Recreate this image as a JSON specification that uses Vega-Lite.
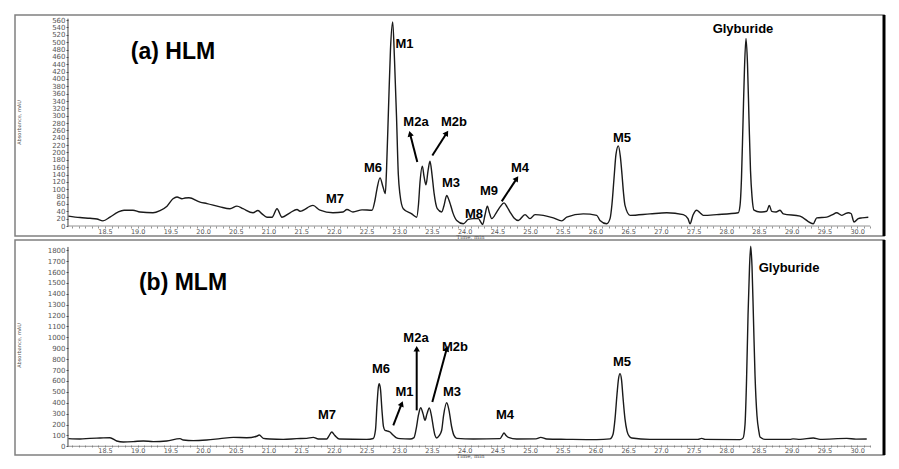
{
  "$schema": "https://vega.github.io/schema/vega-lite/v6.json",
  "padding": {"left": 14, "top": 12, "right": 0, "bottom": 0},
  "spacing": 4,
  "bounds": "flush",
  "config": {"view": {"stroke": "#808080", "strokeWidth": 1.5}, "font": "Liberation Sans", "axis": {"labelOverlap": false, "grid": false}},
  "datasets": {
    "hlm": [
      {"t":17.939,"a":27},{"t":18.118,"a":23},{"t":18.271,"a":21},{"t":18.378,"a":19},{"t":18.469,"a":14},{"t":18.576,"a":24},{"t":18.699,"a":38},{"t":18.791,"a":43},{"t":18.928,"a":43},{"t":19.035,"a":38},{"t":19.234,"a":36},{"t":19.341,"a":42},{"t":19.448,"a":54},{"t":19.540,"a":74},{"t":19.601,"a":79},{"t":19.677,"a":74},{"t":19.723,"a":76},{"t":19.784,"a":77},{"t":19.953,"a":65},{"t":20.060,"a":61},{"t":20.258,"a":52},{"t":20.411,"a":47},{"t":20.518,"a":54},{"t":20.610,"a":47},{"t":20.763,"a":36},{"t":20.839,"a":42},{"t":20.901,"a":33},{"t":20.977,"a":24},{"t":21.054,"a":24},{"t":21.130,"a":47},{"t":21.206,"a":24},{"t":21.329,"a":36},{"t":21.436,"a":45},{"t":21.482,"a":40},{"t":21.680,"a":56},{"t":21.787,"a":43},{"t":21.986,"a":36},{"t":22.139,"a":38},{"t":22.200,"a":45},{"t":22.292,"a":38},{"t":22.430,"a":44},{"t":22.583,"a":43},{"t":22.628,"a":70},{"t":22.659,"a":101},{"t":22.705,"a":131},{"t":22.751,"a":106},{"t":22.786,"a":88},{"t":22.804,"a":150},{"t":22.838,"a":337},{"t":22.865,"a":480},{"t":22.899,"a":555},{"t":22.927,"a":450},{"t":22.957,"a":300},{"t":22.985,"a":140},{"t":23.011,"a":85},{"t":23.061,"a":47},{"t":23.190,"a":33},{"t":23.266,"a":24},{"t":23.294,"a":60},{"t":23.317,"a":120},{"t":23.352,"a":163},{"t":23.378,"a":135},{"t":23.408,"a":112},{"t":23.439,"a":150},{"t":23.469,"a":176},{"t":23.500,"a":140},{"t":23.531,"a":90},{"t":23.581,"a":47},{"t":23.648,"a":38},{"t":23.683,"a":55},{"t":23.725,"a":83},{"t":23.760,"a":70},{"t":23.786,"a":56},{"t":23.821,"a":35},{"t":23.878,"a":15},{"t":23.979,"a":6},{"t":24.055,"a":18},{"t":24.131,"a":20},{"t":24.208,"a":20},{"t":24.242,"a":12},{"t":24.275,"a":4},{"t":24.310,"a":30},{"t":24.346,"a":54},{"t":24.379,"a":35},{"t":24.413,"a":20},{"t":24.489,"a":38},{"t":24.540,"a":52},{"t":24.601,"a":63},{"t":24.647,"a":52},{"t":24.693,"a":38},{"t":24.754,"a":22},{"t":24.820,"a":15},{"t":24.922,"a":31},{"t":24.998,"a":20},{"t":25.075,"a":31},{"t":25.202,"a":29},{"t":25.355,"a":22},{"t":25.483,"a":14},{"t":25.560,"a":24},{"t":25.813,"a":33},{"t":26.018,"a":29},{"t":26.069,"a":15},{"t":26.171,"a":6},{"t":26.222,"a":20},{"t":26.252,"a":60},{"t":26.283,"a":130},{"t":26.313,"a":195},{"t":26.349,"a":218},{"t":26.379,"a":190},{"t":26.405,"a":140},{"t":26.428,"a":90},{"t":26.451,"a":56},{"t":26.528,"a":29},{"t":26.833,"a":33},{"t":27.089,"a":36},{"t":27.342,"a":31},{"t":27.414,"a":20},{"t":27.445,"a":6},{"t":27.491,"a":30},{"t":27.547,"a":43},{"t":27.598,"a":36},{"t":27.648,"a":29},{"t":27.853,"a":31},{"t":28.183,"a":36},{"t":28.209,"a":55},{"t":28.232,"a":130},{"t":28.255,"a":280},{"t":28.278,"a":430},{"t":28.301,"a":510},{"t":28.324,"a":440},{"t":28.347,"a":290},{"t":28.370,"a":150},{"t":28.393,"a":80},{"t":28.424,"a":43},{"t":28.515,"a":38},{"t":28.618,"a":40},{"t":28.657,"a":56},{"t":28.694,"a":40},{"t":28.760,"a":38},{"t":28.821,"a":43},{"t":28.872,"a":33},{"t":29.127,"a":27},{"t":29.330,"a":6},{"t":29.382,"a":22},{"t":29.535,"a":24},{"t":29.616,"a":30},{"t":29.688,"a":36},{"t":29.764,"a":29},{"t":29.815,"a":33},{"t":29.865,"a":36},{"t":29.907,"a":34},{"t":29.953,"a":11},{"t":30.018,"a":20},{"t":30.075,"a":22},{"t":30.171,"a":24}
    ],
    "mlm": [
      {"t":17.939,"a":70},{"t":18.118,"a":67},{"t":18.271,"a":73},{"t":18.424,"a":76},{"t":18.576,"a":79},{"t":18.679,"a":49},{"t":18.780,"a":40},{"t":18.933,"a":43},{"t":19.086,"a":49},{"t":19.239,"a":43},{"t":19.443,"a":49},{"t":19.647,"a":70},{"t":19.697,"a":58},{"t":19.850,"a":52},{"t":20.055,"a":58},{"t":20.258,"a":70},{"t":20.462,"a":82},{"t":20.667,"a":79},{"t":20.820,"a":92},{"t":20.859,"a":104},{"t":20.920,"a":73},{"t":21.023,"a":67},{"t":21.226,"a":64},{"t":21.431,"a":70},{"t":21.584,"a":73},{"t":21.685,"a":82},{"t":21.761,"a":67},{"t":21.890,"a":67},{"t":21.925,"a":95},{"t":21.966,"a":131},{"t":22.017,"a":98},{"t":22.083,"a":67},{"t":22.501,"a":64},{"t":22.602,"a":72},{"t":22.636,"a":150},{"t":22.659,"a":380},{"t":22.679,"a":540},{"t":22.694,"a":575},{"t":22.713,"a":520},{"t":22.735,"a":330},{"t":22.758,"a":180},{"t":22.781,"a":147},{"t":22.820,"a":140},{"t":22.858,"a":131},{"t":22.908,"a":101},{"t":22.950,"a":80},{"t":23.011,"a":70},{"t":23.164,"a":67},{"t":23.225,"a":80},{"t":23.255,"a":150},{"t":23.294,"a":290},{"t":23.327,"a":354},{"t":23.362,"a":300},{"t":23.393,"a":239},{"t":23.424,"a":300},{"t":23.459,"a":352},{"t":23.492,"a":280},{"t":23.520,"a":177},{"t":23.546,"a":100},{"t":23.572,"a":76},{"t":23.607,"a":95},{"t":23.648,"a":147},{"t":23.676,"a":280},{"t":23.725,"a":400},{"t":23.760,"a":330},{"t":23.801,"a":177},{"t":23.836,"a":100},{"t":23.878,"a":73},{"t":24.131,"a":67},{"t":24.540,"a":70},{"t":24.570,"a":95},{"t":24.601,"a":122},{"t":24.631,"a":100},{"t":24.667,"a":82},{"t":24.795,"a":67},{"t":25.090,"a":68},{"t":25.162,"a":82},{"t":25.254,"a":67},{"t":25.560,"a":64},{"t":26.018,"a":61},{"t":26.222,"a":68},{"t":26.268,"a":110},{"t":26.298,"a":250},{"t":26.329,"a":480},{"t":26.352,"a":620},{"t":26.375,"a":667},{"t":26.398,"a":610},{"t":26.420,"a":450},{"t":26.451,"a":250},{"t":26.482,"a":140},{"t":26.512,"a":95},{"t":26.553,"a":76},{"t":26.833,"a":64},{"t":27.292,"a":64},{"t":27.567,"a":64},{"t":27.624,"a":73},{"t":27.674,"a":64},{"t":28.209,"a":61},{"t":28.255,"a":75},{"t":28.286,"a":200},{"t":28.309,"a":600},{"t":28.332,"a":1200},{"t":28.355,"a":1650},{"t":28.373,"a":1836},{"t":28.393,"a":1650},{"t":28.416,"a":1150},{"t":28.439,"a":650},{"t":28.469,"a":280},{"t":28.500,"a":130},{"t":28.515,"a":85},{"t":28.592,"a":64},{"t":28.974,"a":64},{"t":29.020,"a":68},{"t":29.127,"a":64},{"t":29.330,"a":76},{"t":29.433,"a":64},{"t":29.841,"a":73},{"t":29.983,"a":66},{"t":30.147,"a":67}
    ],
    "hlm_labels": [
      {"label":"M1","t":23.080,"a":495},{"label":"M2a","t":23.255,"a":283},{"label":"M2b","t":23.836,"a":283},{"label":"M6","t":22.598,"a":158},{"label":"M3","t":23.791,"a":117},{"label":"M7","t":22.017,"a":73},{"label":"M9","t":24.372,"a":95},{"label":"M4","t":24.846,"a":158},{"label":"M8","t":24.142,"a":33},{"label":"M5","t":26.405,"a":239},{"label":"Glyburide","t":28.255,"a":536}
    ],
    "mlm_labels": [
      {"label":"M7","t":21.894,"a":287},{"label":"M6","t":22.720,"a":710},{"label":"M1","t":23.080,"a":498},{"label":"M2a","t":23.255,"a":994},{"label":"M2b","t":23.852,"a":912},{"label":"M3","t":23.806,"a":498},{"label":"M4","t":24.616,"a":287},{"label":"M5","t":26.405,"a":774},{"label":"Glyburide","t":28.959,"a":1637}
    ],
    "hlm_arrows": [
      {"t":23.275,"a":174,"t2":23.164,"a2":251,"heading":-14.5},
      {"t":23.505,"a":192,"t2":23.725,"a2":253,"heading":32.9},
      {"t":24.566,"a":67,"t2":24.795,"a2":129,"heading":33.6}
    ],
    "mlm_arrows": [
      {"t":22.908,"a":193,"t2":23.037,"a2":391,"heading":21.3},
      {"t":23.266,"a":330,"t2":23.266,"a2":896,"heading":0},
      {"t":23.505,"a":407,"t2":23.725,"a2":896,"heading":15.1}
    ]
  },
  "vconcat": [
    {
      "width": 869,
      "height": 221,
      "resolve": {"axis": {"x": "independent", "y": "independent"}},
      "layer": [
        {
          "data": {"name": "hlm"},
          "mark": {"type": "line", "color": "#1a1a1a", "strokeWidth": 1.4, "interpolate": "monotone"},
          "encoding": {
            "x": {"field": "t", "type": "quantitative",
              "scale": {"domain": [17.124, 30.411], "nice": false, "zero": false},
              "axis": {"title": "Time, min", "offset": -10, "domain": false, "grid": false,
                "values": [18.0,18.1,18.2,18.3,18.4,18.5,18.6,18.7,18.8,18.9,19.0,19.1,19.2,19.3,19.4,19.5,19.6,19.7,19.8,19.9,20.0,20.1,20.2,20.3,20.4,20.5,20.6,20.7,20.8,20.9,21.0,21.1,21.2,21.3,21.4,21.5,21.6,21.7,21.8,21.9,22.0,22.1,22.2,22.3,22.4,22.5,22.6,22.7,22.8,22.9,23.0,23.1,23.2,23.3,23.4,23.5,23.6,23.7,23.8,23.9,24.0,24.1,24.2,24.3,24.4,24.5,24.6,24.7,24.8,24.9,25.0,25.1,25.2,25.3,25.4,25.5,25.6,25.7,25.8,25.9,26.0,26.1,26.2,26.3,26.4,26.5,26.6,26.7,26.8,26.9,27.0,27.1,27.2,27.3,27.4,27.5,27.6,27.7,27.8,27.9,28.0,28.1,28.2,28.3,28.4,28.5,28.6,28.7,28.8,28.9,29.0,29.1,29.2,29.3,29.4,29.5,29.6,29.7,29.8,29.9,30.0,30.1,30.2],
                "labelExpr": "abs(datum.value*2 - round(datum.value*2)) < 0.01 && datum.value > 18.3 ? format(datum.value, '.1f') : ''",
                "tickSize": 2, "tickColor": "#777", "tickWidth": 0.8,
                "labelFont": "DejaVu Sans", "labelFontSize": 6.5, "labelColor": "#555", "labelPadding": 0,
                "labelOverlap": false, "labelFlush": false, "labelBound": false,
                "titleFont": "DejaVu Serif", "titleFontSize": 5.5, "titleFontWeight": "normal", "titleColor": "#555", "titlePadding": 0, "titleX": 455}},
            "y": {"field": "a", "type": "quantitative",
              "scale": {"domain": [-27.2, 574], "nice": false, "zero": false},
              "axis": {"title": "Absorbance, mAU", "offset": -53, "domain": false, "grid": false, "format": "d",
                "values": [0,20,40,60,80,100,120,140,160,180,200,220,240,260,280,300,320,340,360,380,400,420,440,460,480,500,520,540,560],
                "tickSize": 2, "tickColor": "#555", "labelFont": "DejaVu Sans", "labelFontSize": 7, "labelColor": "#555", "labelPadding": 1,
                "labelOverlap": false, "labelBound": false, "labelFlush": false,
                "titleFont": "DejaVu Sans", "titleFontSize": 5, "titleFontWeight": "normal", "titleColor": "#555", "titleX": -47, "titleY": 107}}
          }
        },
        {"data": {"values": [{}]}, "mark": {"type": "rule", "color": "#444", "strokeWidth": 1}, "encoding": {"x": {"datum": 17.934, "axis": null}, "y": {"datum": 0, "axis": null}, "y2": {"datum": 564}}},
        {"data": {"values": [{}]}, "mark": {"type": "rule", "color": "#777", "strokeWidth": 0.8}, "encoding": {"x": {"datum": 17.934, "axis": null}, "x2": {"datum": 30.2}, "y": {"datum": 0, "axis": null}}},
        {"data": {"values": [{}]}, "mark": {"type": "rule", "color": "#000", "strokeWidth": 3}, "encoding": {"x": {"datum": 30.411, "axis": null}, "y": {"datum": -27.2, "axis": null}, "y2": {"datum": 574}}},
        {
          "data": {"name": "hlm_arrows"},
          "mark": {"type": "rule", "color": "#000", "strokeWidth": 2},
          "encoding": {"x": {"field": "t", "type": "quantitative", "axis": null}, "y": {"field": "a", "type": "quantitative", "axis": null}, "x2": {"field": "t2"}, "y2": {"field": "a2"}}
        },
        {
          "data": {"name": "hlm_arrows"},
          "mark": {"type": "point", "shape": "triangle-up", "filled": true, "color": "#000", "size": 40, "opacity": 1},
          "encoding": {"x": {"field": "t2", "type": "quantitative", "axis": null}, "y": {"field": "a2", "type": "quantitative", "axis": null}, "angle": {"field": "heading", "type": "quantitative", "scale": null}}
        },
        {
          "data": {"name": "hlm_labels"},
          "mark": {"type": "text", "font": "Liberation Sans", "fontWeight": "bold", "fontSize": 13, "color": "#000", "align": "center", "baseline": "middle"},
          "encoding": {"x": {"field": "t", "type": "quantitative", "axis": null}, "y": {"field": "a", "type": "quantitative", "axis": null}, "text": {"field": "label"}}
        },
        {
          "data": {"values": [{}]},
          "mark": {"type": "text", "text": "(a) HLM", "font": "Liberation Sans", "fontWeight": "bold", "fontSize": 23, "color": "#000", "align": "center", "baseline": "middle"},
          "encoding": {"x": {"datum": 19.54, "axis": null}, "y": {"datum": 473, "axis": null}}
        }
      ]
    },
    {
      "width": 869,
      "height": 215,
      "resolve": {"axis": {"x": "independent", "y": "independent"}},
      "layer": [
        {
          "data": {"name": "mlm"},
          "mark": {"type": "line", "color": "#1a1a1a", "strokeWidth": 1.4, "interpolate": "monotone"},
          "encoding": {
            "x": {"field": "t", "type": "quantitative",
              "scale": {"domain": [17.124, 30.411], "nice": false, "zero": false},
              "axis": {"title": "Time, min", "offset": -10, "domain": false, "grid": false,
                "values": [18.0,18.1,18.2,18.3,18.4,18.5,18.6,18.7,18.8,18.9,19.0,19.1,19.2,19.3,19.4,19.5,19.6,19.7,19.8,19.9,20.0,20.1,20.2,20.3,20.4,20.5,20.6,20.7,20.8,20.9,21.0,21.1,21.2,21.3,21.4,21.5,21.6,21.7,21.8,21.9,22.0,22.1,22.2,22.3,22.4,22.5,22.6,22.7,22.8,22.9,23.0,23.1,23.2,23.3,23.4,23.5,23.6,23.7,23.8,23.9,24.0,24.1,24.2,24.3,24.4,24.5,24.6,24.7,24.8,24.9,25.0,25.1,25.2,25.3,25.4,25.5,25.6,25.7,25.8,25.9,26.0,26.1,26.2,26.3,26.4,26.5,26.6,26.7,26.8,26.9,27.0,27.1,27.2,27.3,27.4,27.5,27.6,27.7,27.8,27.9,28.0,28.1,28.2,28.3,28.4,28.5,28.6,28.7,28.8,28.9,29.0,29.1,29.2,29.3,29.4,29.5,29.6,29.7,29.8,29.9,30.0,30.1,30.2],
                "labelExpr": "abs(datum.value*2 - round(datum.value*2)) < 0.01 && datum.value > 18.3 ? format(datum.value, '.1f') : ''",
                "tickSize": 2, "tickColor": "#777", "tickWidth": 0.8,
                "labelFont": "DejaVu Sans", "labelFontSize": 6.5, "labelColor": "#555", "labelPadding": 0,
                "labelOverlap": false, "labelFlush": false, "labelBound": false,
                "titleFont": "DejaVu Serif", "titleFontSize": 5.5, "titleFontWeight": "normal", "titleColor": "#555", "titlePadding": 0, "titleX": 455}},
            "y": {"field": "a", "type": "quantitative",
              "scale": {"domain": [-79.9, 1893.8], "nice": false, "zero": false},
              "axis": {"title": "Absorbance, mAU", "offset": -53, "domain": false, "grid": false, "format": "d",
                "values": [0,100,200,300,400,500,600,700,800,900,1000,1100,1200,1300,1400,1500,1600,1700,1800],
                "tickSize": 2, "tickColor": "#555", "labelFont": "DejaVu Sans", "labelFontSize": 7, "labelColor": "#555", "labelPadding": 1,
                "labelOverlap": false, "labelBound": false, "labelFlush": false,
                "titleFont": "DejaVu Sans", "titleFontSize": 5, "titleFontWeight": "normal", "titleColor": "#555", "titleX": -47, "titleY": 105}}
          }
        },
        {"data": {"values": [{}]}, "mark": {"type": "rule", "color": "#444", "strokeWidth": 1}, "encoding": {"x": {"datum": 17.934, "axis": null}, "y": {"datum": 0, "axis": null}, "y2": {"datum": 1830}}},
        {"data": {"values": [{}]}, "mark": {"type": "rule", "color": "#777", "strokeWidth": 0.8}, "encoding": {"x": {"datum": 17.934, "axis": null}, "x2": {"datum": 30.2}, "y": {"datum": 0, "axis": null}}},
        {"data": {"values": [{}]}, "mark": {"type": "rule", "color": "#000", "strokeWidth": 3}, "encoding": {"x": {"datum": 30.411, "axis": null}, "y": {"datum": -79.9, "axis": null}, "y2": {"datum": 1893.8}}},
        {
          "data": {"name": "mlm_arrows"},
          "mark": {"type": "rule", "color": "#000", "strokeWidth": 2},
          "encoding": {"x": {"field": "t", "type": "quantitative", "axis": null}, "y": {"field": "a", "type": "quantitative", "axis": null}, "x2": {"field": "t2"}, "y2": {"field": "a2"}}
        },
        {
          "data": {"name": "mlm_arrows"},
          "mark": {"type": "point", "shape": "triangle-up", "filled": true, "color": "#000", "size": 40, "opacity": 1},
          "encoding": {"x": {"field": "t2", "type": "quantitative", "axis": null}, "y": {"field": "a2", "type": "quantitative", "axis": null}, "angle": {"field": "heading", "type": "quantitative", "scale": null}}
        },
        {
          "data": {"name": "mlm_labels"},
          "mark": {"type": "text", "font": "Liberation Sans", "fontWeight": "bold", "fontSize": 13, "color": "#000", "align": "center", "baseline": "middle"},
          "encoding": {"x": {"field": "t", "type": "quantitative", "axis": null}, "y": {"field": "a", "type": "quantitative", "axis": null}, "text": {"field": "label"}}
        },
        {
          "data": {"values": [{}]},
          "mark": {"type": "text", "text": "(b) MLM", "font": "Liberation Sans", "fontWeight": "bold", "fontSize": 23, "color": "#000", "align": "center", "baseline": "middle"},
          "encoding": {"x": {"datum": 19.693, "axis": null}, "y": {"datum": 1499, "axis": null}}
        }
      ]
    }
  ]
}
